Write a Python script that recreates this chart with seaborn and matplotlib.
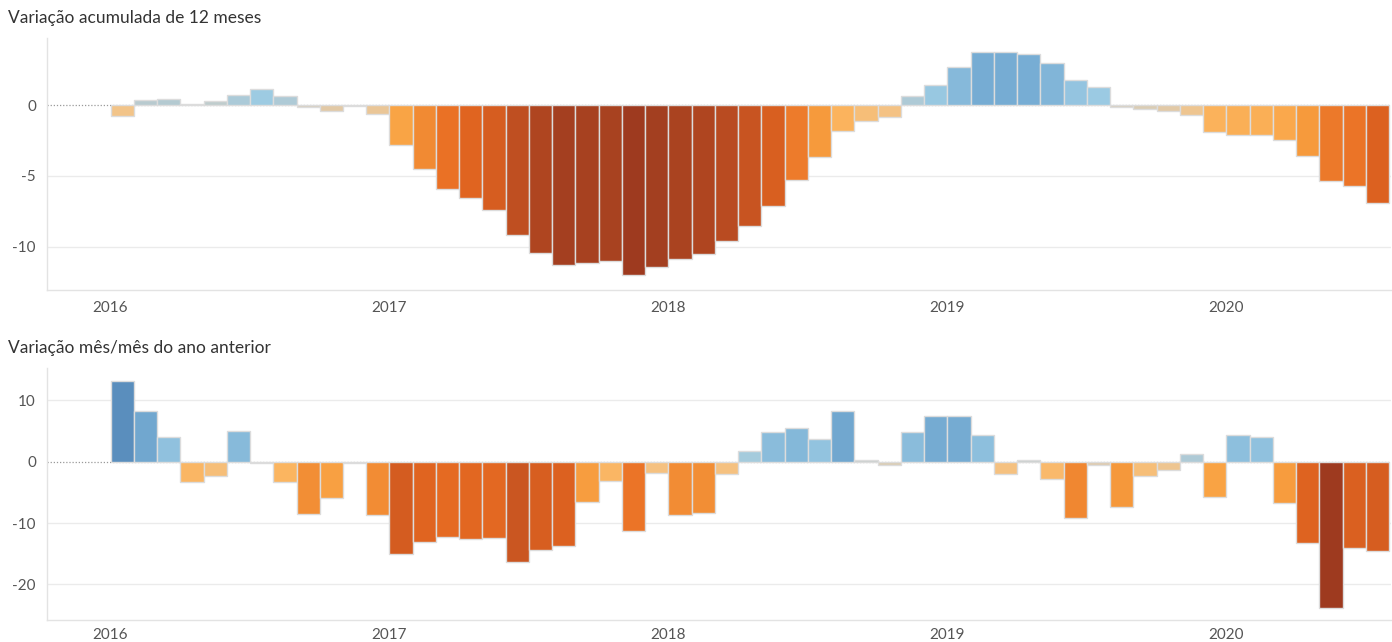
import numpy as np
import pandas as pd
import seaborn as sns
import matplotlib.pyplot as plt
from matplotlib.colors import LinearSegmentedColormap, to_hex

sns.set_theme(style="white")
plt.rcParams['font.family'] = ['Lato', 'DejaVu Sans']

# monthly series, Jan 2016 .. Jul 2020
months = pd.period_range('2016-01', '2020-07', freq='M').strftime('%Y-%m').tolist()

acum_12m = [-0.8, 0.35, 0.4, 0.1, 0.25, 0.68, 1.15, 0.6, -0.15, -0.4, -0.05, -0.6,
            -2.8, -4.5, -5.9, -6.57, -7.37, -9.15, -10.42, -11.3, -11.15, -11.0, -12.0, -11.4,
            -10.85, -10.5, -9.58, -8.5, -7.13, -5.28, -3.64, -1.81, -1.15, -0.85, 0.61, 1.43,
            2.7, 3.73, 3.73, 3.6, 2.93, 1.74, 1.29, -0.12, -0.28, -0.42, -0.73, -1.9,
            -2.14, -2.14, -2.49, -3.6, -5.37, -5.68, -6.88]

mes_mes = [13.2, 8.27, 4.08, -3.26, -2.33, 5.06, -0.2, -3.37, -8.53, -5.97, -0.15, -8.7,
           -15.06, -13.15, -12.28, -12.66, -12.5, -16.4, -14.35, -13.7, -6.63, -3.2, -11.3, -1.9,
           -8.7, -8.37, -2.0, 1.75, 4.8, 5.5, 3.65, 8.27, 0.3, -0.5, 4.8, 7.5,
           7.5, 4.3, -2.0, 0.3, -2.87, -9.24, -0.6, -7.34, -2.33, -1.35, 1.25, -5.76,
           4.3, 3.98, -6.79, -13.3, -23.8, -14.0, -14.57]

year_labels = ['2016', '2017', '2018', '2019', '2020']

# orange-blue diverging (tableau like)
stops = [(0.0, '#9e3a1f'), (0.03, '#a54020'), (0.12, '#c04f21'), (0.225, '#e06420'),
         (0.255, '#ea7125'), (0.35, '#f69a3c'), (0.385, '#f9a445'), (0.425, '#fbb45e'),
         (0.465, '#f4c386'), (0.5, '#d0cfc6'), (0.515, '#b6cad0'), (0.55, '#9ccbe3'),
         (0.655, '#76acd3'), (0.775, '#5a8ebd'), (1.0, '#2b5c8a')]
cmap = LinearSegmentedColormap.from_list('orbl', stops)


def draw_panel(ax, values, ylim, yticks, xpad):
    vmax = np.max(np.abs(values))
    df = pd.DataFrame({'mes': months, 'valor': values,
                       'pos': np.arange(len(values)) + 0.5})
    pal = {m: to_hex(cmap(0.5 + 0.5 * v / vmax)) for m, v in zip(months, values)}

    ax.axhline(0, color='#999999', lw=0.9, ls=(0, (1, 1.5)), zorder=0)
    for t in yticks:
        if t != 0:
            ax.axhline(t, color='#ebebeb', lw=1, zorder=0)

    sns.barplot(data=df, x='pos', y='valor', hue='mes', palette=pal, native_scale=True,
                dodge=False, width=1.0, legend=False, saturation=1,
                edgecolor='#dcdcdc', linewidth=1.0, ax=ax, zorder=2)

    ax.set_xlim(-2.73, 55.08)
    ax.set_ylim(*ylim)
    ax.set_yticks(yticks)
    ax.set_yticklabels([str(t) for t in yticks])
    ax.set_xticks([0, 12, 24, 36, 48])
    ax.set_xticklabels(year_labels)
    ax.set_xticks([m for m in range(-2, 56) if m % 12 != 0], minor=True)
    ax.tick_params(axis='x', which='major', length=5, color='#d0d0d0', width=0.8,
                   labelsize=11, labelcolor='#555555', pad=xpad)
    ax.tick_params(axis='x', which='minor', length=3, color='#e3e3e3', width=0.8)
    ax.tick_params(axis='y', length=0, labelsize=11, labelcolor='#555555', pad=8)
    ax.set_xlabel('')
    ax.set_ylabel('')
    ax.grid(False)
    for side in ['top', 'right']:
        ax.spines[side].set_visible(False)
    for side in ['left', 'bottom']:
        ax.spines[side].set_color('#e3e3e3')
        ax.spines[side].set_linewidth(1)
    ax.spines['left'].set_zorder(0)


fig = plt.figure(figsize=(13.92, 6.42), dpi=100)
ax1 = fig.add_axes([0.0338, 0.5483, 0.9655, 0.3925])
ax2 = fig.add_axes([0.0338, 0.0343, 0.9655, 0.3925])

draw_panel(ax1, acum_12m, (-13.03, 4.72), [0, -5, -10], 3)
draw_panel(ax2, mes_mes, (-25.82, 15.29), [10, 0, -10, -20], 0.5)

fig.text(8 / 1392, 1 - 18 / 642, 'Variação acumulada de 12 meses', fontsize=12.5,
         color='#333333', va='center', ha='left')
fig.text(8 / 1392, 1 - 348 / 642, 'Variação mês/mês do ano anterior', fontsize=12.5,
         color='#333333', va='center', ha='left')

fig.savefig('out.png', dpi=100, facecolor='white')
